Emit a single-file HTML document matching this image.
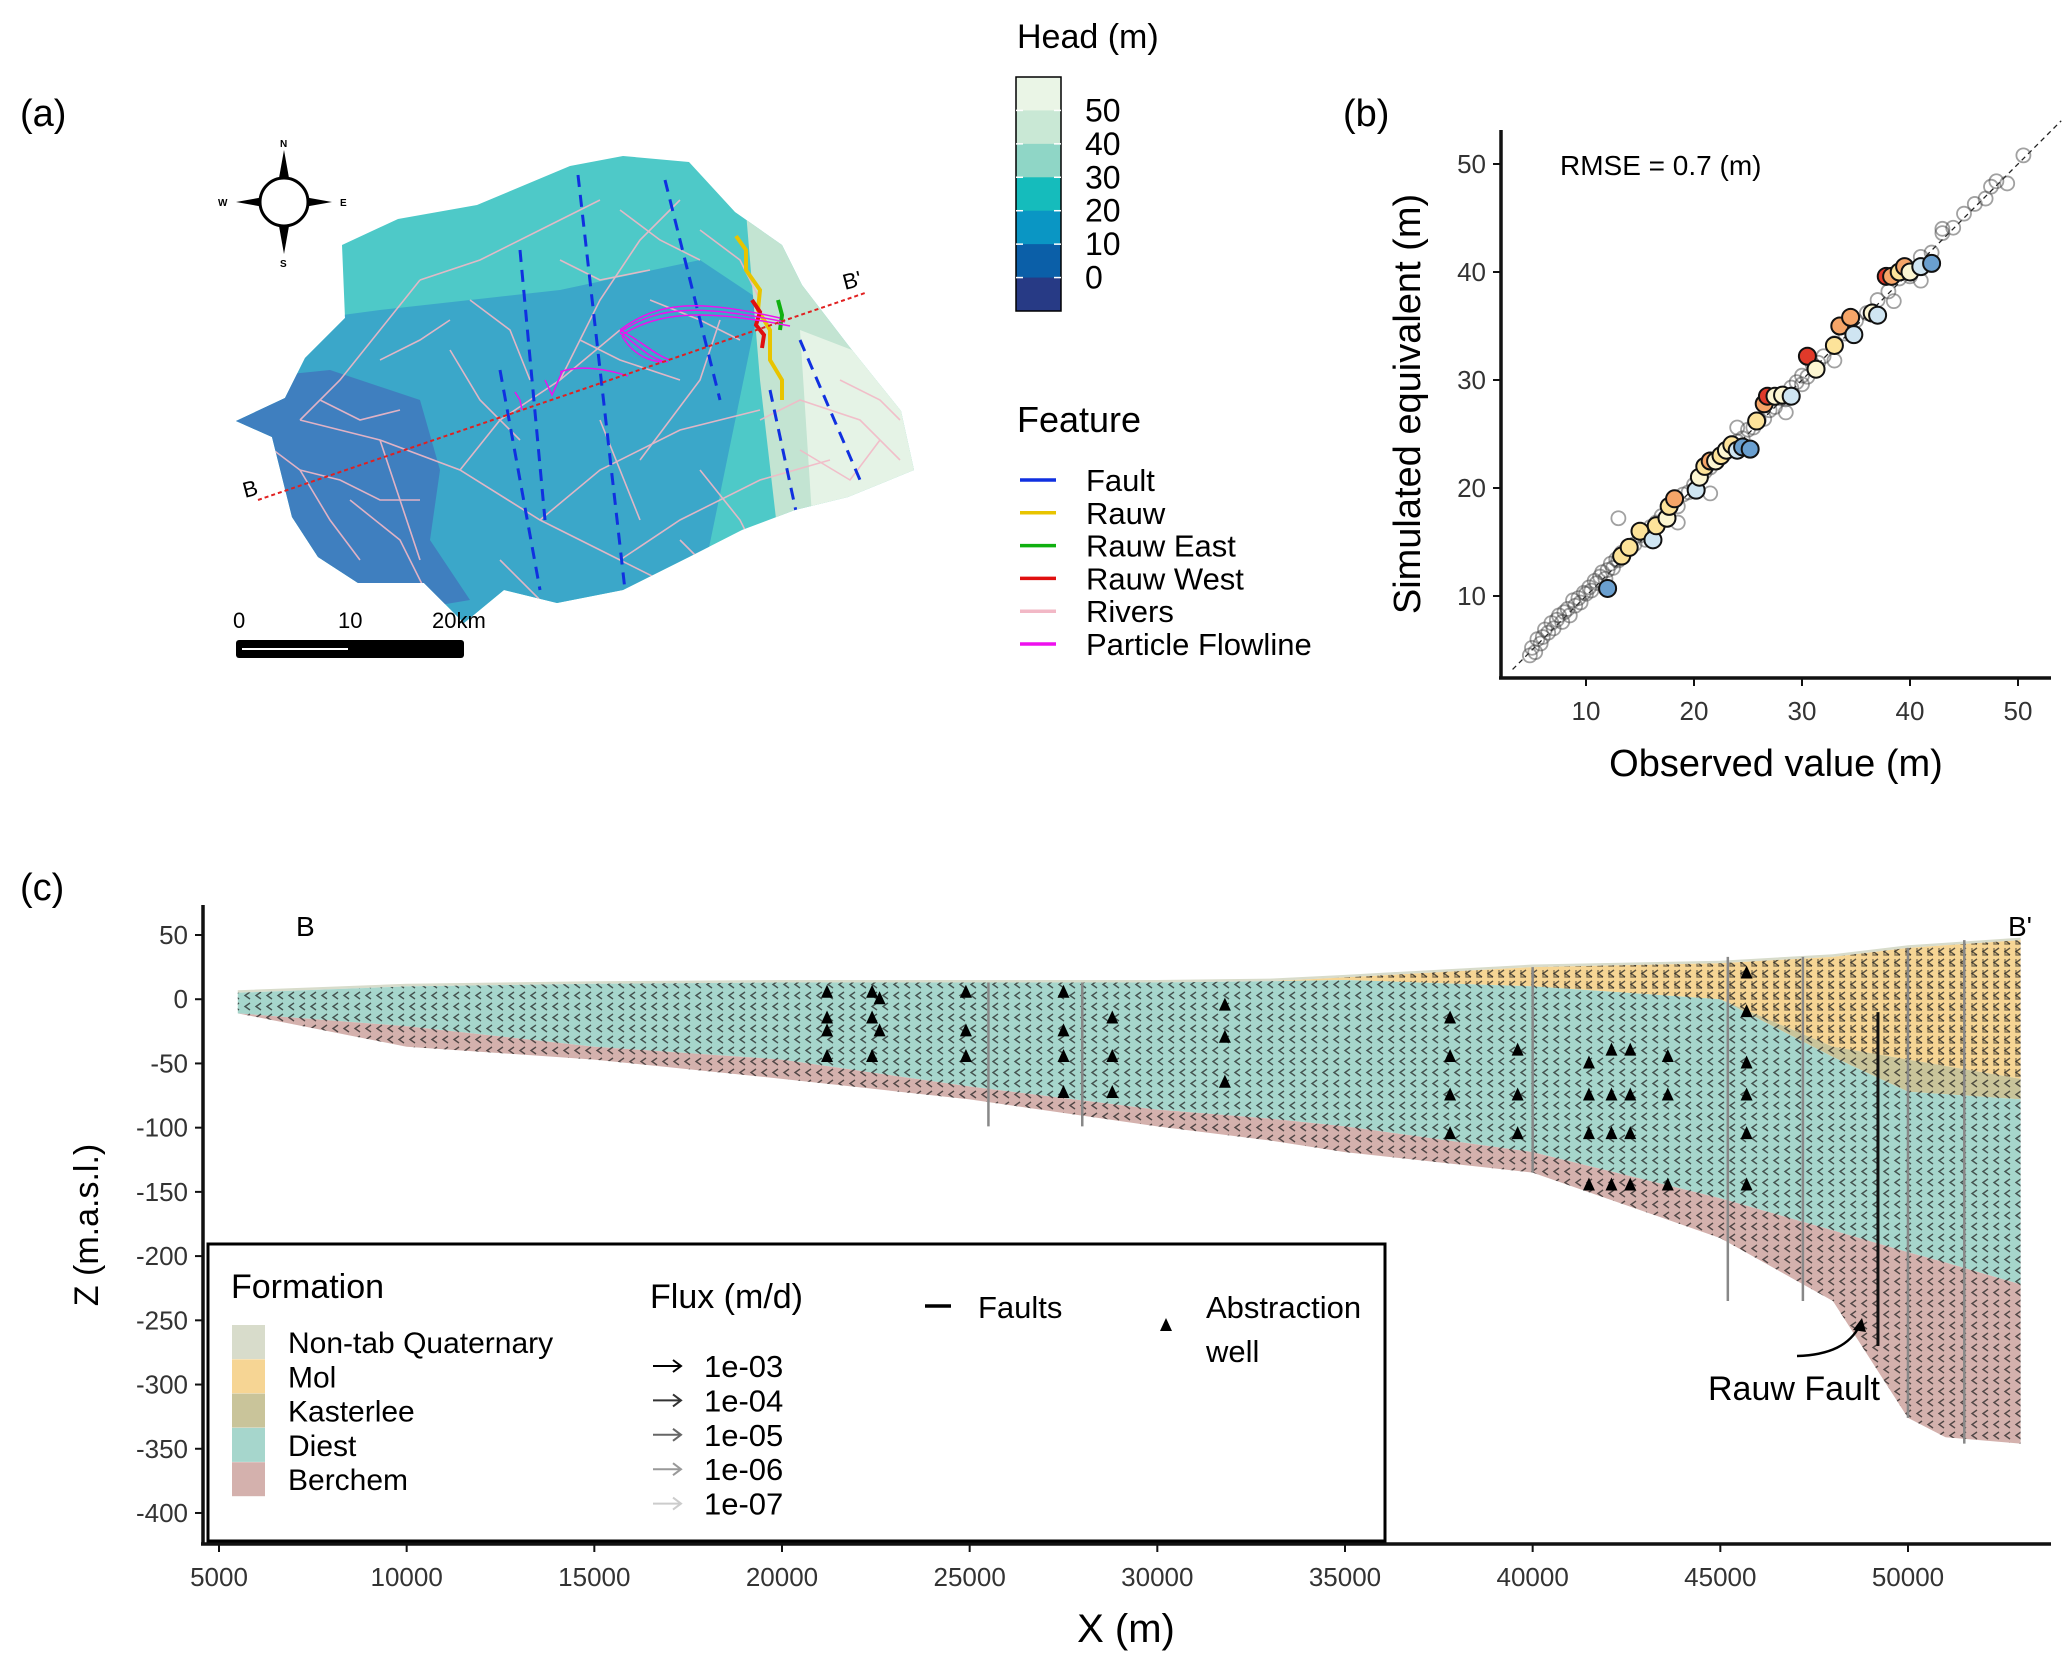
<!DOCTYPE html>
<html><head><meta charset="utf-8"><style>
html,body{margin:0;padding:0;background:#fff}
svg{display:block;font-family:"Liberation Sans",sans-serif}
</style></head><body>
<svg id="fig" width="2067" height="1670" viewBox="0 0 2067 1670" xmlns="http://www.w3.org/2000/svg">
<defs>
<pattern id="arrows" width="11" height="11" patternUnits="userSpaceOnUse">
<path d="M8 2 L3 5.5 L8 9" fill="none" stroke="#1a1a1a" stroke-width="1.4"/>
</pattern>
<pattern id="arrows2" width="11" height="11" patternUnits="userSpaceOnUse">
<path d="M3 2 L3 9 L8 9" fill="none" stroke="#1a1a1a" stroke-width="1.4"/>
</pattern>
<clipPath id="mapclip"><polygon id="mapPoly" points=""/></clipPath>
</defs>

<text x="20" y="126" font-size="38">(a)</text>
<text x="1343" y="126" font-size="38">(b)</text>
<text x="20" y="900" font-size="38">(c)</text>

<g id="map">
<g clip-path="url(#mapclip)">
<rect x="230" y="150" width="700" height="480" fill="#4ec9c8"/>
<polygon points="230,330 380,310 470,300 560,290 700,260 760,300 690,640 230,640" fill="#3ba7c9"/>
<polygon points="230,380 330,370 420,400 440,470 430,540 470,600 230,640" fill="#3f7fbf"/>
<polygon points="745,200 800,230 930,300 930,640 790,640 760,380" fill="#c3e4d2"/>
<polygon points="800,330 930,380 930,640 820,640" fill="#e5f3e6"/>
<g id="rivers" fill="none" stroke="#f2b8c6" stroke-width="1.6" opacity="0.9"></g>
<g id="faultsMap" fill="none" stroke="#1030e0" stroke-width="3" stroke-dasharray="12,8"></g>
</g>
<polyline points="736,236 746,250 746,270 760,290 758,310 770,330 770,360 782,380 782,400" fill="none" stroke="#e8c400" stroke-width="4"/>
<polyline points="752,300 760,312 756,325 764,335 762,348" fill="none" stroke="#e01010" stroke-width="4"/>
<polyline points="778,300 782,315 780,330" fill="none" stroke="#10b010" stroke-width="4"/>
<g fill="none" stroke="#ee10ee" stroke-width="1.5">
<path d="M620 330 C660 300 700 300 780 318"/><path d="M620 332 C660 305 700 305 785 322"/><path d="M622 335 C660 310 710 310 790 326"/>
<path d="M620 330 C640 340 655 355 670 360"/><path d="M620 333 C638 345 650 360 668 362"/><path d="M622 336 C630 350 645 362 665 362"/>
<path d="M560 372 C580 364 610 370 628 376"/><path d="M515 392 L520 400 L522 410"/><path d="M545 380 L552 395 L562 372"/>
</g>
<line x1="258" y1="500" x2="865" y2="293" stroke="#e02020" stroke-width="2" stroke-dasharray="4,3"/>
<text x="245" y="498" font-size="22" transform="rotate(-15 245 498)">B</text>
<text x="845" y="290" font-size="22" transform="rotate(-15 845 290)">B'</text>
<g>
<polygon points="284,150 279,178 289,178" fill="#000"/><polygon points="284,254 279,226 289,226" fill="#000"/>
<polygon points="236,202 264,197 264,207" fill="#000"/><polygon points="332,202 304,197 304,207" fill="#000"/>
<circle cx="284" cy="202" r="24" fill="#fff" stroke="#000" stroke-width="3"/>
<text x="280" y="147" font-size="10" font-weight="bold">N</text><text x="280" y="267" font-size="10" font-weight="bold">S</text>
<text x="218" y="206" font-size="10" font-weight="bold">W</text><text x="340" y="206" font-size="10" font-weight="bold">E</text>
</g>
<g>
<text x="233" y="628" font-size="22">0</text><text x="338" y="628" font-size="22">10</text><text x="432" y="628" font-size="22">20km</text>
<rect x="236" y="640" width="228" height="18" rx="3" fill="#000"/>
<line x1="242" y1="649" x2="348" y2="649" stroke="#fff" stroke-width="2"/>
</g>
</g>

<text x="1017" y="48" font-size="34">Head (m)</text>
<g id="colorbar"></g>

<text x="1017" y="432" font-size="36">Feature</text>
<g id="featLegend"></g>

<g id="panelB"></g>
<g id="panelC"></g>
</svg>

<script>
const NS = "http://www.w3.org/2000/svg";
function mk(tag, attrs, parent, txt){const e=document.createElementNS(NS,tag);for(const k in attrs)e.setAttribute(k,attrs[k]);if(txt!==undefined)e.textContent=txt;parent.appendChild(e);return e;}

const mapPts=[[178,318],[215,300],[230,270],[260,240],[258,185],[300,165],[360,155],[430,125],[470,118],[520,122],[555,160],[590,185],[605,215],[640,260],[680,310],[690,355],[640,375],[600,385],[560,400],[520,420],[470,445],[420,455],[380,445],[350,470],[320,440],[270,440],[240,420],[220,390],[205,330]];
document.getElementById('mapPoly').setAttribute('points',mapPts.map(p=>(p[0]*1.325).toFixed(0)+','+(p[1]*1.325).toFixed(0)).join(' '));
const rivers=document.getElementById('rivers');
const riverPaths=["M300 420 L380 440 L460 470 L540 520 L620 560 L700 600","M300 420 L340 380 L380 330 L420 280","M380 440 L400 500 L420 560","M460 470 L500 420 L560 380 L620 330","M540 520 L600 470 L680 430 L760 410","M620 560 L680 520 L760 480 L830 460","M560 380 L600 300 L640 240 L680 200","M700 230 L740 260 L760 300","M420 280 L480 260 L540 230 L600 200","M800 450 L850 480 L880 440","M470 300 L510 330 L530 380","M350 500 L400 540 L430 600","M640 460 L700 380 L720 320",
"M260 440 L300 470 L330 520 L360 560","M320 400 L360 420 L400 410","M500 560 L540 600 L580 620","M560 260 L600 280 L650 270","M650 300 L700 320 L740 340","M700 470 L740 520 L760 560","M760 420 L800 400 L860 420 L900 460","M840 380 L880 400 L900 420","M600 420 L620 470 L640 520","M520 620 L560 640 L600 650","M450 350 L480 400 L520 440","M380 360 L420 340 L450 320","M680 540 L720 580 L760 590","M820 520 L860 560 L900 540","M620 210 L660 240 L700 260","M580 340 L620 360 L680 380","M300 470 L340 480 L380 500 L420 500"];
riverPaths.forEach(d=>{mk('path',{d:d},rivers);});
const faultsMap=document.getElementById('faultsMap');
const faultX=[[578,175,625,590],[520,250,545,520],[665,180,720,400],[500,370,540,590],[800,340,860,480],[770,390,800,530]];
faultX.forEach(f=>mk('line',{x1:f[0],y1:f[1],x2:f[2],y2:f[3]},faultsMap));

const cbColors=["#eaf5e6","#c9e8d5","#8fd6c6","#15bcbc","#0a96c4","#0b5fa8","#273a85"];
const cbLabels=["50","40","30","20","10","0"];
const cb=document.getElementById('colorbar');
const cbTop=77, cbH=234/7;
cbColors.forEach((c,i)=>{mk('rect',{x:1016,y:cbTop+i*cbH,width:45,height:cbH+0.5,fill:c},cb);});
mk('rect',{x:1016,y:cbTop,width:45,height:234,fill:'none',stroke:'#000','stroke-width':1.5},cb);
cbLabels.forEach((l,i)=>{const y=cbTop+(i+1)*cbH;
 mk('line',{x1:1016,y1:y,x2:1023,y2:y,stroke:'#fff','stroke-width':1.5},cb);
 mk('line',{x1:1054,y1:y,x2:1061,y2:y,stroke:'#fff','stroke-width':1.5},cb);
 const t=mk('text',{x:1085,y:y+11,'font-size':32},cb,l);
 
 });

const featNames=["Fault","Rauw","Rauw East","Rauw West","Rivers","Particle Flowline"];
const featColors=["#1030e0","#e8c400","#10b010","#e01010","#f2b8c6","#ee10ee"];
const fl=document.getElementById('featLegend');
featNames.forEach((n,i)=>{const y=480+i*32.8;
 const l=mk('line',{x1:1020,y1:y,x2:1056,y2:y,stroke:featColors[i],'stroke-width':3.5},fl);
 
 
 const t=mk('text',{x:1086,y:y+11,'font-size':31},fl,n);
 
 });

const bTicks=[10,20,30,40,50];
const grayObs=[4.8,5,5.3,5.5,5.8,6,6.2,6.5,6.8,7,7.3,7.5,7.8,8,8.3,8.5,8.8,9,9.3,9.5,9.8,10,10.3,10.5,10.8,11,11.3,11.5,11.8,12,12.3,12.5,12.8,13,13.3,13.5,14,14.5,15,15.5,16,16.5,17,17.5,18,18.5,19,19.5,20,20.5,21,21.5,22,22.5,23,23.5,24,24.5,25,25.5,26,26.5,27,27.5,28,28.5,29,29.5,30,30.5,31,31.5,32,33,34,35,36,37,38,39,40,41,42,43,44,45,46,47,47.5,48,49,50.5,13,21.5,28.5,30,38.5,43,18.5,24,33,41];
const graySim=[4.5,5.2,4.8,6,5.6,6.2,6.9,6.6,7.5,7,7.8,8.2,7.6,8.5,8.8,8.2,9.6,9.1,9.8,9.4,10.3,10.2,10.8,10.5,11.4,11.2,11.8,12.2,11.6,12.4,13,12.6,13.4,13.3,14,13.8,14.5,14.8,15.6,15.2,16.4,16.8,17.4,17.2,18.6,18.3,19.4,19.6,20.3,20.9,21.5,21.9,22.4,22.8,23.3,23.6,24.3,24.6,25.4,25.6,26.3,26.4,27.2,27.5,28.3,28.2,29.3,29.8,30.4,30.3,31.4,31.6,32.2,33.4,34.3,35.5,36.2,37.4,38.2,39.4,39.6,41.4,41.8,43.6,44.1,45.4,46.3,46.8,47.9,48.4,48.2,50.8,17.2,19.5,27.0,29.6,37.3,44.0,16.8,25.6,31.8,39.2];
const colObs=[12,13.3,14,15,16.2,16.5,17.5,17.7,18.2,20.2,20.5,21,21.5,22,22.5,23,23.5,24,24.5,25.2,25.8,26.5,26.8,27.5,28.2,29,30.5,31.3,33,33.5,34.5,34.8,36.5,37,37.8,38.3,39,39.5,40,41,42];
const colSim=[10.7,13.7,14.5,16,15.2,16.5,17.2,18.3,19,19.8,21,22,22.5,22.5,23,23.5,24,23.5,23.8,23.6,26.2,27.8,28.5,28.5,28.6,28.5,32.2,31,33.2,35,35.8,34.2,36.2,36,39.6,39.6,40,40.5,40,40.5,40.8];
const colGroup=["b","y","y","y","lb","y","c","y","o","lb","c","y","o","c","y","c","y","lb","b","b","y","o","r","c","c","lb","r","c","y","o","o","lb","c","lb","r","o","y","o","c","lb","b"];
const groupFill={b:"#6a9fcf",lb:"#cfe5f2",c:"#fdf6d2",y:"#fde39a",o:"#f6a568",r:"#e03a2a"};
const pB=document.getElementById('panelB');
const PX=v=>1586+(v-10)*10.8, PY=v=>596-(v-10)*10.8;
mk('line',{x1:PX(3.2),y1:PY(3.2),x2:PX(54),y2:PY(54),stroke:'#222','stroke-width':1.3,'stroke-dasharray':'5,4'},pB);
grayObs.forEach((o,i)=>{const c=mk('circle',{cx:PX(o),cy:PY(graySim[i]),r:7,fill:'none',stroke:'#444','stroke-width':1.8,opacity:0.5},pB);
 
 });
colObs.forEach((o,i)=>{const c=mk('circle',{cx:PX(o),cy:PY(colSim[i]),r:8.5,fill:groupFill[colGroup[i]],stroke:'#111','stroke-width':2},pB);
 
 });
mk('line',{x1:1501,y1:130,x2:1501,y2:679,stroke:'#111','stroke-width':3.5},pB);
mk('line',{x1:1499,y1:678,x2:2051,y2:678,stroke:'#111','stroke-width':3.5},pB);
bTicks.forEach(v=>{
 mk('line',{x1:PX(v),y1:678,x2:PX(v),y2:686,stroke:'#111','stroke-width':2},pB);
 const tx=mk('text',{x:PX(v),y:720,'font-size':26,fill:'#333','text-anchor':'middle'},pB,v);
 
 
 mk('line',{x1:1493,y1:PY(v),x2:1501,y2:PY(v),stroke:'#111','stroke-width':2},pB);
 const ty=mk('text',{x:1486,y:PY(v)+9,'font-size':26,fill:'#333','text-anchor':'end'},pB,v);
 
 });
let t=mk('text',{x:1560,y:175,'font-size':28},pB,'RMSE = 0.7 (m)');

t=mk('text',{x:1776,y:776,'font-size':38,'text-anchor':'middle'},pB,'Observed value (m)');

t=mk('text',{x:1420,y:404,'font-size':38,'text-anchor':'middle',transform:'rotate(-90 1420 404)'},pB,'Simulated equivalent (m)');


const secX=[5500,10000,15000,20000,25000,30000,33000,35000,40000,45000,48000,50000,51000,53000];
const topZ=[5,10,12,13,13,13,14,17,25,28,33,40,42,46];
const molBot=[5,10,12,13,13,13,14,15,10,0,-37,-47,-52,-62];
const kastBot=[5,10,12,13,13,13,14,15,10,0,-45,-72,-74,-78];
const diestBot=[-11,-21,-37,-47,-68,-86,-93,-99,-119,-155,-180,-197,-205,-222];
const berchBot=[-8,-37,-47,-62,-78,-99,-110,-119,-135,-186,-235,-326,-341,-346];
const wellX=[21200,21200,21200,21200,22400,22400,22400,22600,22600,24900,24900,24900,27500,27500,27500,27500,28800,28800,28800,31800,31800,31800,37800,37800,37800,37800,39600,39600,39600,41500,41500,41500,41500,42100,42100,42100,42100,42600,42600,42600,42600,43600,43600,43600,45700,45700,45700,45700,45700,45700];
const wellZ=[5,-15,-25,-45,5,-15,-45,0,-25,5,-25,-45,5,-25,-45,-73,-15,-45,-73,-5,-30,-65,-15,-45,-75,-105,-40,-75,-105,-50,-75,-105,-145,-40,-75,-105,-145,-40,-75,-105,-145,-45,-75,-145,20,-10,-50,-75,-105,-145];
const faultLinesX=[25500,28000,40000,45200,47200,50000,51500];
const xTicks=[5000,10000,15000,20000,25000,30000,35000,40000,45000,50000];
const zTicks=[50,0,-50,-100,-150,-200,-250,-300,-350,-400];
const pC=document.getElementById('panelC');
const X=m=>219+(m-5000)*0.037533, Z=z=>935+(50-z)*1.2844;
function band(upper,lower,fill,name){
 const pts=secX.map((x,i)=>X(x)+','+Z(upper[i])).concat(secX.map((x,i)=>X(x)+','+Z(lower[i])).reverse());
 const p=mk('polygon',{points:pts.join(' '),fill:fill},pC);
 
 
 return pts;}
band(topZ.map(v=>v+2),topZ,'#d8dccb','layer-non-tab-quaternary');
band(topZ,molBot,'#f6d594','layer-mol');
band(molBot,kastBot,'#c9c49a','layer-kasterlee');
band(kastBot,diestBot,'#a6d6cc','layer-diest');
band(diestBot,berchBot.map((v,i)=>Math.min(v,diestBot[i])),'#d4b1ad','layer-berchem');
const allPts=secX.map((x,i)=>X(x)+','+Z(topZ[i])).concat(secX.map((x,i)=>X(x)+','+Z(Math.min(berchBot[i],diestBot[i]))).reverse());
const tex=mk('polygon',{points:allPts.join(' '),fill:'url(#arrows)',opacity:0.7},pC);

const molPts=secX.map((x,i)=>X(x)+','+Z(topZ[i])).concat(secX.map((x,i)=>X(x)+','+Z(molBot[i])).reverse());
mk('polygon',{points:molPts.join(' '),fill:'url(#arrows2)',opacity:0.5},pC);
faultLinesX.forEach((fx,i)=>{const k=secX.findIndex(x=>x>=fx);const zt=topZ[k],zb=Math.min(berchBot[k],diestBot[k]);
 const l=mk('line',{x1:X(fx),y1:Z(zt),x2:X(fx),y2:Z(zb),stroke:'#888','stroke-width':2.5},pC);
 
 });
let rf=mk('line',{x1:X(49200),y1:Z(-10),x2:X(49200),y2:Z(-270),stroke:'#111','stroke-width':3},pC);

wellX.forEach((wx,i)=>{const cx=X(wx),cy=Z(wellZ[i]);
 const p=mk('polygon',{points:`${cx},${cy-8} ${cx-6},${cy+5} ${cx+6},${cy+5}`,fill:'#000'},pC);
 
 });
mk('line',{x1:203,y1:905,x2:203,y2:1545,stroke:'#111','stroke-width':3.5},pC);
mk('line',{x1:201,y1:1544,x2:2051,y2:1544,stroke:'#111','stroke-width':3.5},pC);
xTicks.forEach(v=>{mk('line',{x1:X(v),y1:1544,x2:X(v),y2:1552,stroke:'#111','stroke-width':2},pC);
 const tx=mk('text',{x:X(v),y:1586,'font-size':26,fill:'#333','text-anchor':'middle'},pC,v);
 
 });
zTicks.forEach(v=>{mk('line',{x1:195,y1:Z(v),x2:203,y2:Z(v),stroke:'#111','stroke-width':2},pC);
 const ty=mk('text',{x:188,y:Z(v)+9,'font-size':26,fill:'#333','text-anchor':'end'},pC,v);
 
 });
t=mk('text',{x:1126,y:1642,'font-size':40,'text-anchor':'middle'},pC,'X (m)');

t=mk('text',{x:98,y:1225,'font-size':34,'text-anchor':'middle',transform:'rotate(-90 98 1225)'},pC,'Z (m.a.s.l.)');

t=mk('text',{x:296,y:936,'font-size':28},pC,'B');
t=mk('text',{x:2008,y:936,'font-size':28},pC,"B'");
t=mk('text',{x:1708,y:1400,'font-size':34},pC,'Rauw Fault');
mk('path',{d:'M1797 1356 C1830 1355 1850 1345 1860 1325',fill:'none',stroke:'#000','stroke-width':2.5},pC);
mk('polygon',{points:'1862,1318 1853,1330 1866,1332',fill:'#000'},pC);

const lg=mk('g',{},pC);

mk('rect',{x:208,y:1244,width:1177,height:297,fill:'#fff',stroke:'#000','stroke-width':3},lg);
mk('text',{x:231,y:1298,'font-size':34},lg,'Formation');
const formNames=["Non-tab Quaternary","Mol","Kasterlee","Diest","Berchem"];
const formColors=["#d8dccb","#f6d594","#c9c49a","#a6d6cc","#d4b1ad"];
formNames.forEach((n,i)=>{const y=1325+i*34.3;
 mk('rect',{x:232,y:y,width:33,height:34,fill:formColors[i]},lg);
 const tx=mk('text',{x:288,y:y+28,'font-size':30},lg,n);
 
 });
mk('text',{x:650,y:1308,'font-size':34},lg,'Flux (m/d)');
const fluxLabels=["1e-03","1e-04","1e-05","1e-06","1e-07"];
const fluxGray=["#000","#333","#666","#999","#ccc"];
fluxLabels.forEach((n,i)=>{const y=1366+i*34.4;
 mk('line',{x1:653,y1:y,x2:680,y2:y,stroke:fluxGray[i],'stroke-width':2},lg);
 mk('path',{d:`M673 ${y-6} L681 ${y} L673 ${y+6}`,fill:'none',stroke:fluxGray[i],'stroke-width':2},lg);
 const tx=mk('text',{x:704,y:y+11,'font-size':31},lg,n);
 
 });
mk('line',{x1:925,y1:1306,x2:951,y2:1306,stroke:'#000','stroke-width':3.5},lg);
mk('text',{x:978,y:1318,'font-size':31},lg,'Faults');
mk('polygon',{points:'1166,1318 1160,1331 1172,1331',fill:'#000'},lg);
mk('text',{x:1206,y:1318,'font-size':31},lg,'Abstraction');
mk('text',{x:1206,y:1362,'font-size':31},lg,'well');
</script>
</body></html>
